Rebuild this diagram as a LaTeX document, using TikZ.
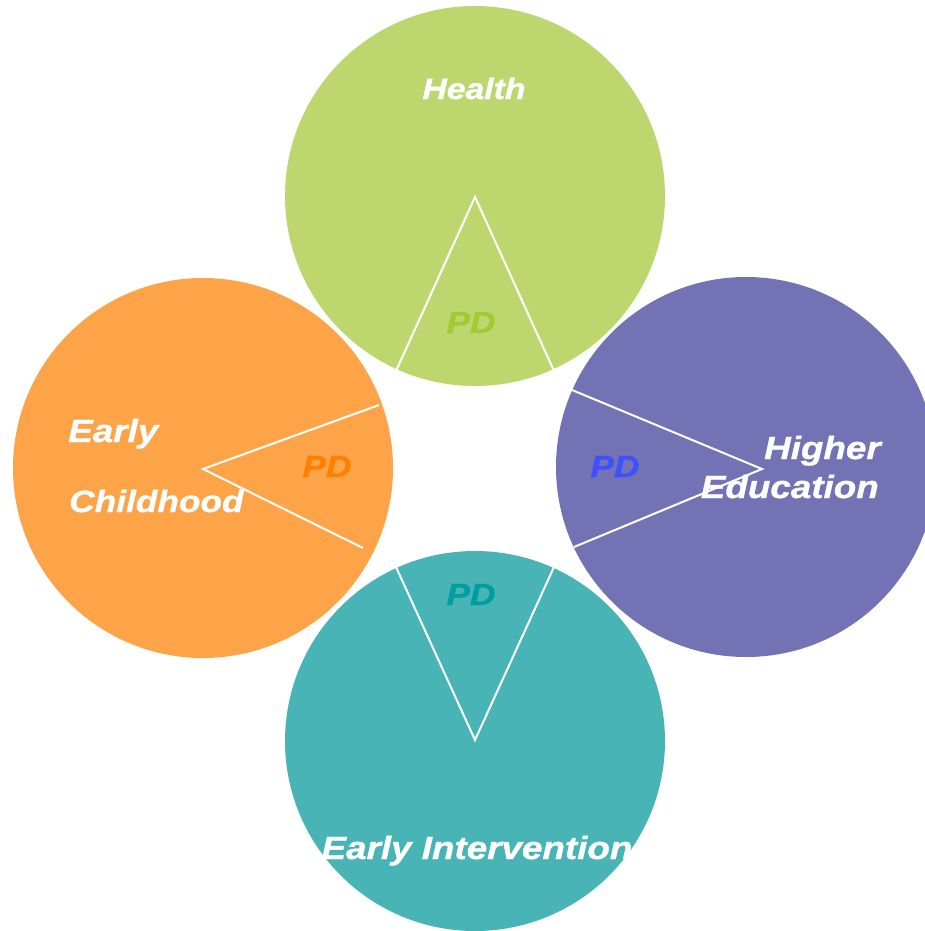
\documentclass[tikz,border=0pt]{standalone}
\usepackage{fontspec}
\newfontfamily\lblfont{Liberation Sans}[FakeStretch=1.15, FakeBold=1]
\usetikzlibrary{calc}

\definecolor{healthgreen}{RGB}{189,214,110}
\definecolor{childorange}{RGB}{253,164,72}
\definecolor{edupurple}{RGB}{114,114,181}
\definecolor{interteal}{RGB}{72,180,181}
\definecolor{pdgreen}{RGB}{163,201,51}
\definecolor{pdorange}{RGB}{255,128,0}
\definecolor{pdblue}{RGB}{64,80,255}
\definecolor{pdteal}{RGB}{0,158,158}

\begin{document}
\begin{tikzpicture}[x=0.75pt, y=0.75pt,
disc/.style={circle, minimum size=285pt, inner sep=0pt},
cut/.style={draw=white, line width=1.5pt},
title/.style={font=\lblfont\bfseries\itshape\fontsize{24}{29}\selectfont, text=white, inner sep=0pt},
pd/.style={font=\lblfont\bfseries\itshape\fontsize{23}{28}\selectfont, inner sep=0pt, anchor=base}]

\useasboundingbox (0,0) rectangle (924,-931);

% the four circles
\node[disc, fill=healthgreen] (health) at (475,-196) {};
\node[disc, fill=childorange] (child) at (203,-468) {};
\node[disc, fill=edupurple] (edu) at (746,-467) {};
\node[disc, fill=interteal] (inter) at (475,-741) {};

% wedge tips
\coordinate (healthtip) at (475,-197);
\coordinate (childtip) at (203,-469);
\coordinate (edutip) at (762,-469);
\coordinate (intertip) at (475,-740);

\draw[cut] ($(healthtip)+(-79,-174)$) -- (healthtip) -- ++(79,-174);
\draw[cut] ($(childtip)+(176,64)$) -- (childtip) -- ++(160,-79);
\draw[cut] ($(edutip)+(-190,79)$) -- (edutip) -- ++(-188,-78);
\draw[cut] ($(intertip)+(-79,173)$) -- (intertip) -- ++(79,173);

% labels
\node[title, anchor=base, font=\lblfont\bfseries\itshape\fontsize{22}{26}\selectfont] (healthlbl) at (474,-99) {Health};
\node[pd, text=pdgreen] (healthpd) at (471,-333) {PD};

\node[title, anchor=base west] (earlylbl) at (68,-442) {Early};
\node[title, anchor=base west, font=\lblfont\bfseries\itshape\fontsize{23}{28}\selectfont] (childlbl) at (69,-512) {Childhood};
\node[pd, text=pdorange] (childpd) at (327,-477) {PD};

\node[title, anchor=base east] (higherlbl) at (881,-459) {Higher};
\node[title, anchor=base east] (edulbl) at (879,-498) {Education};
\node[pd, text=pdblue] (edupd) at (615,-477) {PD};

\node[pd, text=pdteal] (interpd) at (471,-605) {PD};
\node[title, anchor=base] (interlbl) at (477,-859) {Early Intervention};
\end{tikzpicture}
\end{document}
